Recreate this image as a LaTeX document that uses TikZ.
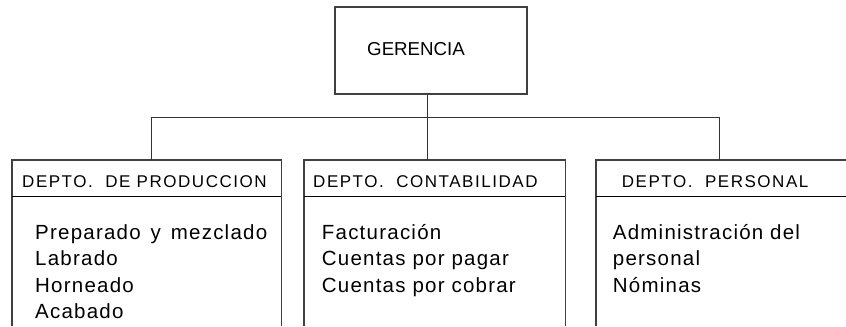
\documentclass[tikz,border=0pt]{standalone}
\usepackage{fontspec}
\setmainfont{Liberation Sans}
\newfontfamily\hdrfont[LetterSpace=9]{Liberation Sans}
\newfontfamily\bodyfont[LetterSpace=6]{Liberation Sans}
\begin{document}
\begin{tikzpicture}[x=1bp,y=-1bp,
  boxline/.style={draw=black!75,line width=1.1bp},
  sepline/.style={draw=black,line width=1bp},
  conn/.style={draw=black!80,line width=1bp},
  area/.style={draw=none,inner sep=0pt,anchor=north west},
  hdr/.style={inner sep=0pt,anchor=base west,font=\hdrfont\fontsize{17bp}{20bp}\selectfont},
  body/.style={inner sep=0pt,anchor=base west,font=\bodyfont\fontsize{20.5bp}{24bp}\selectfont},
  toptxt/.style={inner sep=0pt,anchor=base west,font=\fontsize{18.7bp}{22bp}\selectfont}]
\useasboundingbox (0,0) rectangle (846,326);
% top box
\node[boxline,inner sep=0pt,minimum width=192bp,minimum height=87bp] (ger) at (431,50.5) {};
\node[toptxt] (gt) at (367,55) {GERENCIA};
% department areas (open at the bottom)
\node[area,minimum width=269bp,minimum height=166bp] (d1) at (12,160) {};
\node[area,minimum width=261bp,minimum height=166bp] (d2) at (304,160) {};
\node[area,minimum width=250bp,minimum height=166bp] (d3) at (596,160) {};
\draw[boxline] (d1.south west) -- (d1.north west) -- (d1.north east) -- (d1.south east);
\draw[boxline] (d2.south west) -- (d2.north west) -- (d2.north east) -- (d2.south east);
\draw[boxline] (d3.south west) -- (d3.north west) -- (d3.north east);
% header separators
\coordinate (s1) at (12,196);
\coordinate (s2) at (304,196);
\coordinate (s3) at (596,196);
\draw[sepline] (s1) -- (s1 -| d1.east);
\draw[sepline] (s2) -- (s2 -| d2.east);
\draw[sepline] (s3) -- (s3 -| d3.east);
% connectors
\coordinate (b1) at (151,117);
\coordinate (b2) at (427,117);
\coordinate (b3) at (719,117);
\draw[conn] (b2 |- ger.south) -- (b2);
\draw[conn] (b1) -- (b3);
\draw[conn] (b1) -- (b1 |- d1.north);
\draw[conn] (b2) -- (b2 |- d2.north);
\draw[conn] (b3) -- (b3 |- d3.north);
% headers
\node[hdr] (h1) at (22,187) {DEPTO.\ \ DE PRODUCCION};
\node[hdr] (h2) at (313,187) {DEPTO.\ \ CONTABILIDAD};
\node[hdr] (h3) at (621.7,187) {DEPTO.\ \ PERSONAL};
% bodies
\node[body] (p1) at (35,239) {Preparado\hspace{3bp} y\hspace{3bp} mezclado};
\node[body] (p2) at (35,265.5) {Labrado};
\node[body] (p3) at (35,292) {Horneado};
\node[body] (p4) at (35,318.5) {Acabado};
\node[body] (c1) at (321.7,239) {Facturación};
\node[body] (c2) at (321.7,265.7) {Cuentas por pagar};
\node[body] (c3) at (321.7,292.4) {Cuentas por cobrar};
\node[body] (r1) at (612.7,239) {Administración del};
\node[body] (r2) at (612.7,265.7) {personal};
\node[body] (r3) at (612.7,292.4) {Nóminas};
\end{tikzpicture}
\end{document}
